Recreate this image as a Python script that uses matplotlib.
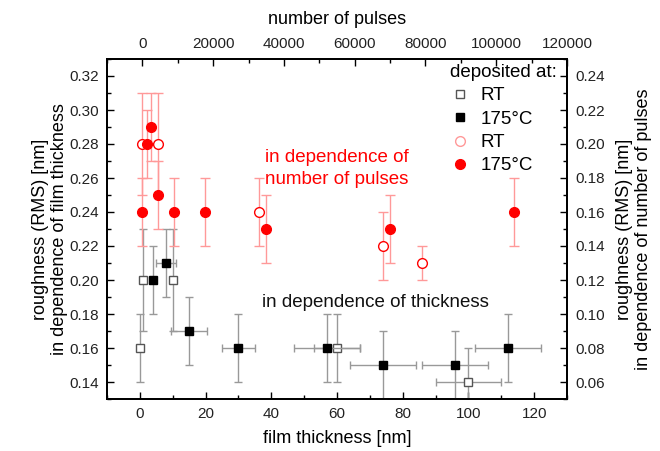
import matplotlib
matplotlib.use("Agg")
import matplotlib.pyplot as plt
from matplotlib.lines import Line2D
from matplotlib.ticker import MultipleLocator, FormatStrFormatter

plt.rcParams['font.family'] = ['Liberation Sans', 'DejaVu Sans']

# thickness series (bottom x, left y)
rt_thk_x = [0, 1, 10, 60, 100]
rt_thk_y = [0.16, 0.20, 0.20, 0.16, 0.14]
rt_thk_yerr = [0.02, 0.03, 0.03, 0.02, 0.02]
rt_thk_xerr = [0, 0, 0, 7, 10]

hot_thk_x = [4, 8, 15, 30, 57, 74, 96, 112]
hot_thk_y = [0.20, 0.21, 0.17, 0.16, 0.16, 0.15, 0.15, 0.16]
hot_thk_yerr = [0.02, 0.02, 0.02, 0.02, 0.02, 0.02, 0.02, 0.02]
hot_thk_xerr = [0, 3, 5.5, 5, 10, 10, 10, 10]

# pulses series (top x, right y)
rt_pul_x = [0, 4300, 33000, 68000, 79000]
rt_pul_y = [0.20, 0.20, 0.16, 0.14, 0.13]
rt_pul_yerr = [0.03, 0.03, 0.02, 0.02, 0.01]

hot_pul_x = [0, 1300, 2500, 4500, 9000, 17700, 35000, 70000, 105000]
hot_pul_y = [0.16, 0.20, 0.21, 0.17, 0.16, 0.16, 0.15, 0.15, 0.16]
hot_pul_yerr = [0.02, 0.02, 0.02, 0.02, 0.02, 0.02, 0.02, 0.02, 0.02]

fig = plt.figure(figsize=(6.6, 4.51), dpi=100)
ax = fig.add_axes([107/660, 1-399/451, 460/660, 340/451])
axr = ax.twinx()
axt = axr.twiny()

gray = '#999999'
pink = '#ff9999'
red = '#ff0000'

ax.errorbar(rt_thk_x, rt_thk_y, yerr=rt_thk_yerr, xerr=rt_thk_xerr, fmt='s',
            ms=6, mfc='white', mec='#555555', mew=1, ecolor=gray, elinewidth=1,
            capsize=3, capthick=1, zorder=3)
ax.errorbar(hot_thk_x, hot_thk_y, yerr=hot_thk_yerr, xerr=hot_thk_xerr, fmt='s',
            ms=6, mfc='black', mec='black', mew=1, ecolor=gray, elinewidth=1,
            capsize=3, capthick=1, zorder=4)

axt.errorbar(rt_pul_x, rt_pul_y, yerr=rt_pul_yerr, fmt='o', ms=7, mfc='white',
             mec=red, mew=1, ecolor=pink, elinewidth=1, capsize=3.5, capthick=1)
axt.errorbar(hot_pul_x, hot_pul_y, yerr=hot_pul_yerr, fmt='o', ms=7, mfc=red,
             mec=red, mew=1, ecolor=pink, elinewidth=1, capsize=3.5, capthick=1)

ax.set_xlim(-10, 130)
ax.set_ylim(0.13, 0.33)
axr.set_ylim(0.05, 0.25)
axt.set_xlim(-10000, 120000)

ax.xaxis.set_major_locator(MultipleLocator(20))
ax.xaxis.set_minor_locator(MultipleLocator(10))
ax.yaxis.set_major_locator(MultipleLocator(0.02))
ax.yaxis.set_minor_locator(MultipleLocator(0.01))
axr.yaxis.set_major_locator(MultipleLocator(0.02))
axr.yaxis.set_minor_locator(MultipleLocator(0.01))
axt.xaxis.set_major_locator(MultipleLocator(20000))
axt.xaxis.set_minor_locator(MultipleLocator(10000))

ax.yaxis.set_major_formatter(FormatStrFormatter('%.2f'))
axr.yaxis.set_major_formatter(FormatStrFormatter('%.2f'))

for a in (ax, axr, axt):
    a.tick_params(which='major', direction='in', length=5, width=1, labelsize=11,
                  labelcolor='#222222', pad=6)
    a.tick_params(which='minor', direction='in', length=3, width=1)
    for s in a.spines.values():
        s.set_linewidth(1.2)

ax.set_xlabel('film thickness [nm]', fontsize=13, labelpad=6)
ax.set_ylabel('roughness (RMS) [nm]\nin dependence of film thickness', fontsize=13,
              labelpad=1, linespacing=1.15)
axr.set_ylabel('roughness (RMS) [nm]\nin dependence of number of pulses', fontsize=13,
               rotation=90, labelpad=8, linespacing=1.15)
axr.yaxis.set_label_position('right')
axt.set_xlabel('number of pulses', fontsize=13, labelpad=9)

ax.text(60, 0.2655, 'in dependence of\nnumber of pulses', color=red, fontsize=13.5,
        ha='center', va='center', linespacing=1.35)
ax.text(71.6, 0.1865, 'in dependence of thickness', color='#111111', fontsize=13.5,
        ha='center', va='center')

handles = [
    Line2D([], [], ls='none', marker='s', ms=6, mfc='white', mec='#555555'),
    Line2D([], [], ls='none', marker='s', ms=6, mfc='black', mec='black'),
    Line2D([], [], ls='none', marker='o', ms=7, mfc='white', mec=pink),
    Line2D([], [], ls='none', marker='o', ms=7, mfc=red, mec=red),
]
leg = axt.legend(handles, ['RT', '175°C', 'RT', '175°C'], title='deposited at:',
                 loc='upper left', bbox_to_anchor=(437/660, 1-51/451),
                 bbox_transform=fig.transFigure, frameon=False, fontsize=13.5,
                 title_fontsize=13.5, handlelength=1.0, handletextpad=0.6,
                 labelspacing=0.33, alignment='left', borderpad=0.2)

fig.savefig('out.png', dpi=100)
